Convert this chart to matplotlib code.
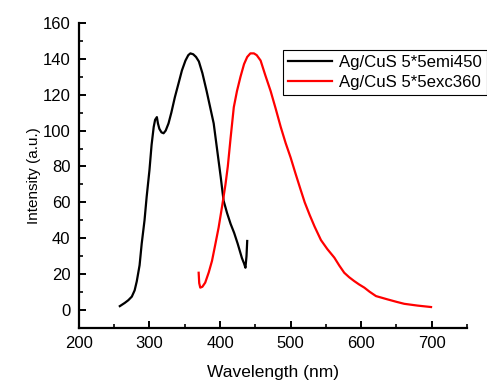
import numpy as np
import matplotlib.pyplot as plt
from matplotlib.ticker import MultipleLocator

plt.rcParams['font.family'] = ['Liberation Sans', 'DejaVu Sans']

# emission-monitored excitation spectrum (black)
emi_wl = [258, 265, 270, 275, 279, 282, 286, 289, 293, 296, 300, 303, 306, 308,
          310.5, 312, 314, 317, 320, 323, 327, 331, 336, 341, 346, 351, 355, 358,
          362, 366, 370, 375, 381, 386, 391, 396, 401, 405, 410, 415, 420, 425,
          431, 434, 436, 437.5, 438.5]
emi_int = [2.2, 4, 5.5, 7.5, 11, 16, 25, 37, 50, 63, 78, 92, 102, 106,
           107.5, 104, 101, 99, 98.5, 100, 104, 110, 118.6, 126, 133.5, 139, 142, 143,
           142.5, 141, 138.5, 132, 122, 113, 104, 89, 74, 61, 54, 48, 43, 37,
           29, 26, 23.6, 30, 38.5]

# excitation at 360 nm, emission spectrum (red)
exc_wl = [369.7, 370.5, 372, 375, 379, 384, 388.6, 393, 398, 403, 407.7, 411,
          415, 419.5, 424, 429, 434, 438.5, 443, 448, 452, 457.5, 464, 471.7, 479,
          486, 493, 500, 507, 514, 520, 527, 534, 543, 552, 562, 569, 576,
          583, 590, 597, 604.5, 612, 621, 637, 650, 661, 680, 699]
exc_int = [20.8, 15, 12.5, 13, 15.3, 21, 27.4, 36, 46, 58, 70, 80,
           96, 113, 122, 130, 137, 141, 143, 143, 142, 139, 131, 122, 112,
           102, 93, 85, 76, 67.3, 60, 53, 46.5, 39, 34, 29.2, 24.8, 20.8,
           18.3, 16.2, 14.3, 12.5, 10.2, 7.8, 6, 4.6, 3.5, 2.5, 1.7]

fig = plt.figure(figsize=(4.87, 3.81), dpi=100)
ax = fig.add_axes([0.162, 0.139, 0.797, 0.801])

ax.plot(emi_wl, emi_int, color='black', lw=1.6, label='Ag/CuS 5*5emi450')
ax.plot(exc_wl, exc_int, color='red', lw=1.6, label='Ag/CuS 5*5exc360')

ax.set_xlim(200, 750)
ax.set_ylim(-10, 160)
ax.xaxis.set_minor_locator(MultipleLocator(50))
ax.yaxis.set_minor_locator(MultipleLocator(10))
ax.set_xticks([200, 300, 400, 500, 600, 700])
ax.set_yticks([0, 20, 40, 60, 80, 100, 120, 140, 160])

for s in ['top', 'right']:
    ax.spines[s].set_visible(False)
for s in ['left', 'bottom']:
    ax.spines[s].set_linewidth(1.6)

ax.tick_params(which='major', direction='in', length=5, width=1.4, labelsize=12, pad=6)
ax.tick_params(which='minor', direction='in', length=3, width=1.2)

ax.set_xlabel('Wavelength (nm)', fontsize=12.5, labelpad=10)
ax.set_ylabel('Intensity (a.u.)', fontsize=11, labelpad=1)

leg = ax.legend(loc='upper left', bbox_to_anchor=(0.526, 0.911), fontsize=12.1,
                frameon=True, fancybox=False, edgecolor='black', framealpha=1,
                borderpad=0.3, handlelength=2.6, handletextpad=0.45, labelspacing=0.3,
                borderaxespad=0)
leg.get_frame().set_linewidth(0.8)

fig.savefig('out.png', dpi=100)
